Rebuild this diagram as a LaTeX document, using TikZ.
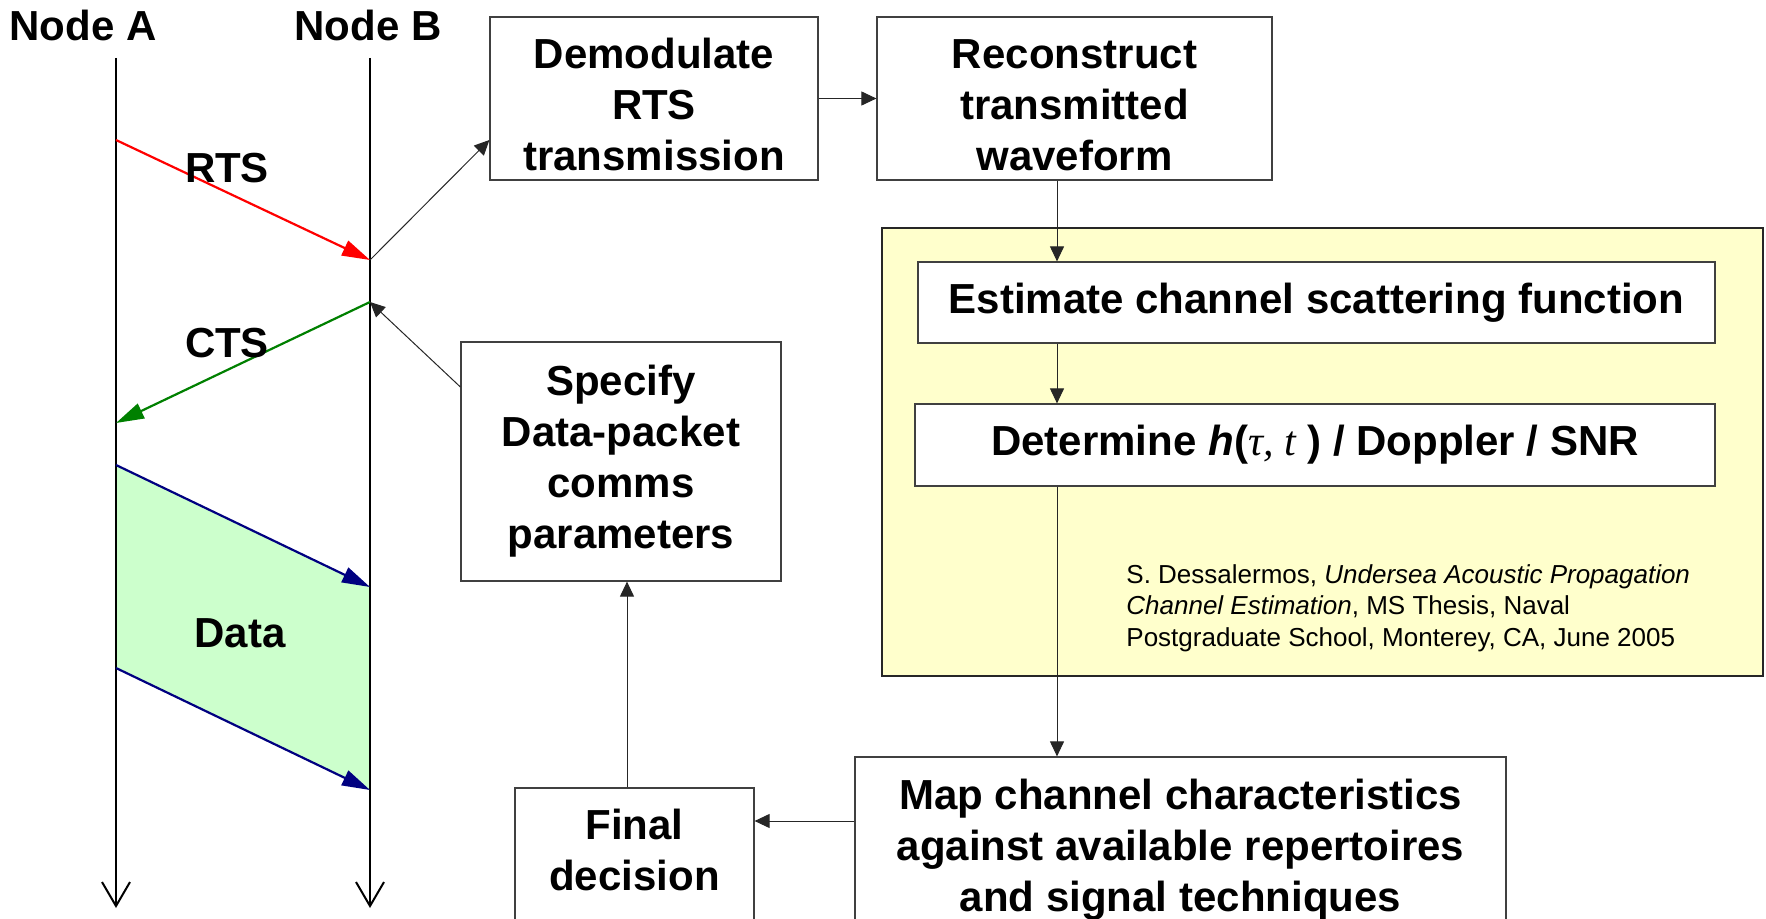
\documentclass[tikz,border=0pt]{standalone}
\usepackage{fontspec}
\setmainfont{Liberation Sans}
\newfontfamily\tmsfont{Liberation Serif}
\usetikzlibrary{arrows.meta,positioning}
\definecolor{rtsred}{RGB}{255,0,0}
\definecolor{ctsgreen}{RGB}{0,128,0}
\definecolor{datanavy}{RGB}{0,0,128}
\definecolor{datafill}{RGB}{204,255,204}
\definecolor{panelyellow}{RGB}{255,255,204}
\newcommand\liftup[1]{\rule{0pt}{#1}}
\newcommand\liftdn[1]{\rule[-#1]{0pt}{#1}}

\begin{document}
\begin{tikzpicture}[x=0.5pt,y=-0.5pt,
  big/.style={font=\fontsize{21}{25.5}\selectfont\bfseries},
  blk/.style={draw=black!75,line width=0.6pt,fill=white,align=center,inner sep=0pt,big},
  flow/.style={draw=black!85,line width=0.5pt,-{Triangle[length=7.5pt,width=7pt]}},
  msg/.style={line width=1.1pt,-{Triangle[length=14pt,width=8pt]}},
  life/.style={line width=1pt,-{Straight Barb[length=12pt,width=14pt]}}]
  \clip (0,0) rectangle (1766,919);
  \coordinate (aR) at (116,140);  \coordinate (bR) at (370,260);
  \coordinate (bC) at (370,302);  \coordinate (aC) at (116,423);
  \coordinate (a1) at (116,465);  \coordinate (b1) at (370,587);
  \coordinate (a2) at (116,668);  \coordinate (b2) at (370,790);
  \fill[datafill] (a1) -- (b1) -- (b2) -- (a2) -- cycle;
  \foreach \n/\x/\lx in {A/116/83, B/370/368}
  {
    \node[big] (name\n) at (\lx,25) {Node \n};
    \coordinate (top\n) at (\x,58);
    \coordinate (bot\n) at (\x,908);
    \draw[life] (top\n) -- (bot\n);
    }
  \foreach \s/\e/\c in {aR/bR/rtsred, bC/aC/ctsgreen, a1/b1/datanavy, a2/b2/datanavy}
    \draw[msg,\c] (\s) -- (\e);
  \foreach \n/\x/\y/\t in {rts/227/168/RTS, cts/227/343/CTS, data/240/633/Data}
    \node[big] (lbl\n) at (\x,\y) {\t};

  \node[draw=black!85,line width=0.9pt,fill=panelyellow,minimum width=440.5pt,minimum height=224pt,inner sep=0pt] (panel) at (1322.5,452) {};
  \node[blk,minimum width=164pt,minimum height=81.5pt] (dem) at (654,98.5) {\liftup{21pt}Demodulate\\RTS\\transmission};
  \node[blk,minimum width=197.5pt,minimum height=81.5pt] (rec) at (1074.5,98.5) {\liftup{21pt}Reconstruct\\transmitted\\waveform};
  \node[blk,minimum width=398.5pt,minimum height=40.5pt] (est) at (1316.5,302.5) {Estimate channel scattering function};
  \node[blk,minimum width=400pt,minimum height=41pt] (det) at (1315,445) {Determine \textit{h}({\tmsfont\mdseries\itshape τ, t} ) / Doppler / SNR};
  \node[blk,minimum width=325.5pt,minimum height=89pt] (map) at (1180.5,846) {\liftup{18.5pt}Map channel characteristics\\against available repertoires\\and signal techniques};
  \node[blk,minimum width=119.5pt,minimum height=68.5pt] (fin) at (634.5,856.5) {Final\\decision\liftdn{6.8pt}};
  \node[blk,minimum width=160pt,minimum height=119.5pt] (spec) at (621,461.5) {Specify\\Data-packet\\comms\\parameters};
  \node[anchor=west,align=left,inner sep=0pt,font=\fontsize{13}{15.75}\selectfont] (cite) at (1126,608)
    {S. Dessalermos, \textit{Undersea Acoustic Propagation}\\\textit{Channel Estimation}, MS Thesis, Naval\\Postgraduate School, Monterey, CA, June 2005};

  \coordinate (spine) at (1057,0);
  \coordinate (mapfin) at (0,821);
  \coordinate (up) at (627,0);
  \draw[flow] (bR) -- ([yshift=-20.75pt]dem.west);
  \draw[flow] (dem.east) -- (rec.west);
  \draw[flow] (rec.south -| spine) -- (est.north -| spine);
  \draw[flow] (est.south -| spine) -- (det.north -| spine);
  \draw[flow] (det.south -| spine) -- (map.north -| spine);
  \draw[flow] (map.west |- mapfin) -- (fin.east |- mapfin);
  \draw[flow] (fin.north -| up) -- (spec.south -| up);
  \draw[flow] ([yshift=37.25pt]spec.west) -- (bC);
\end{tikzpicture}
\end{document}
